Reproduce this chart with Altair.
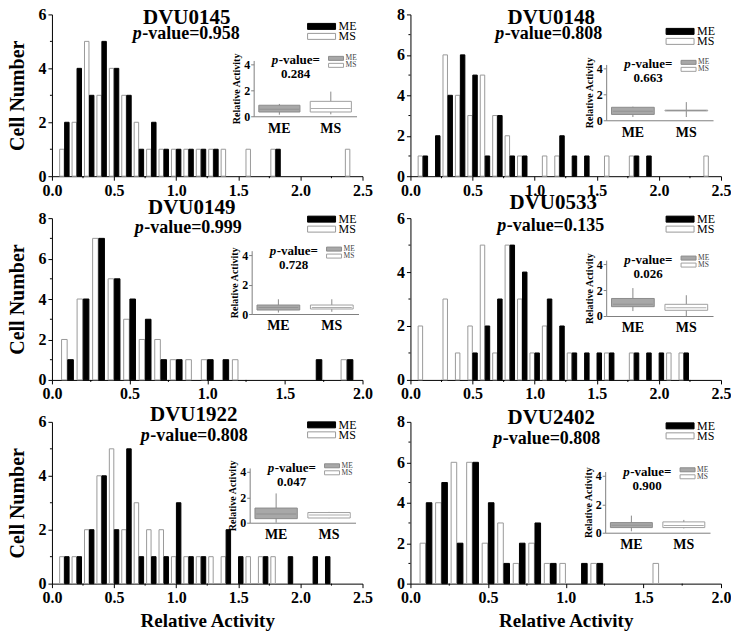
import altair as alt
import pandas as pd

FONT = "Liberation Serif"

GENES = ["DVU0145", "DVU0148", "DVU0149", "DVU0533", "DVU1922", "DVU2402"]
P_HIST = ["0.958", "0.808", "0.999", "0.135", "0.808", "0.808"]
P_BOX = ["0.284", "0.663", "0.728", "0.026", "0.047", "0.900"]
X_MAX = [2.5, 2.5, 2.0, 2.5, 2.5, 2.0]
Y_MAX = [6, 8, 8, 6, 6, 8]
SERIES = ["ME", "MS"]

BINS = [0.1, 0.2, 0.3, 0.4, 0.5, 0.6, 0.7, 0.8, 0.9, 1.0, 1.1, 1.2,
        1.3, 1.4, 1.5, 1.6, 1.7, 1.8, 1.9, 2.0, 2.1, 2.2, 2.3, 2.4]

ME_0145 = [2, 4, 3, 5, 4, 3, 1, 2, 1, 1, 1, 1, 1, 0, 0, 0, 0, 1, 0, 0, 0, 0, 0, 0]
MS_0145 = [1, 2, 5, 3, 4, 3, 2, 1, 1, 1, 1, 1, 1, 1, 0, 1, 0, 1, 0, 0, 0, 0, 0, 1]
ME_0148 = [1, 2, 4, 6, 5, 1, 3, 1, 1, 0, 0, 2, 1, 1, 0, 0, 0, 1, 1, 0, 0, 0, 0, 0]
MS_0148 = [1, 0, 6, 4, 3, 5, 3, 2, 1, 0, 1, 1, 0, 0, 0, 1, 0, 1, 0, 0, 0, 0, 0, 1]
ME_0149 = [1, 4, 7, 5, 4, 3, 1, 1, 0, 1, 1, 0, 0, 0, 0, 0, 1, 0, 1, 0, 0, 0, 0, 0]
MS_0149 = [2, 4, 7, 5, 3, 2, 2, 1, 1, 1, 0, 1, 0, 0, 0, 0, 0, 0, 1, 0, 0, 0, 0, 0]
ME_0533 = [0, 0, 0, 0, 1, 2, 3, 5, 4, 1, 3, 2, 1, 1, 1, 1, 0, 1, 1, 1, 0, 1, 0, 0]
MS_0533 = [2, 0, 3, 1, 2, 5, 1, 5, 3, 1, 2, 0, 1, 0, 0, 1, 0, 1, 0, 0, 1, 1, 0, 0]
ME_1922 = [1, 1, 2, 4, 2, 5, 1, 1, 1, 3, 1, 1, 0, 2, 1, 0, 1, 0, 1, 0, 1, 1, 0, 0]
MS_1922 = [1, 1, 2, 4, 5, 2, 3, 2, 2, 1, 1, 1, 1, 1, 0, 1, 1, 1, 0, 0, 0, 0, 0, 0]
ME_2402 = [4, 5, 2, 6, 4, 1, 2, 3, 1, 0, 1, 1, 0, 0, 0, 0, 0, 0, 0, 0, 0, 0, 0, 0]
MS_2402 = [2, 4, 6, 6, 2, 3, 1, 2, 1, 1, 0, 1, 0, 0, 0, 1, 0, 0, 0, 0, 0, 0, 0, 0]

# box-plot summaries: [lower whisker, Q1, median, Q3, upper whisker]
BOX_ME_0145 = [0.12, 0.33, 0.55, 0.85, 0.95]
BOX_MS_0145 = [0.15, 0.33, 0.60, 1.15, 1.90]
BOX_ME_0148 = [0.25, 0.45, 0.70, 1.00, 1.05]
BOX_MS_0148 = [0.25, 0.72, 0.75, 0.78, 1.40]
BOX_ME_0149 = [0.10, 0.27, 0.45, 0.61, 1.00]
BOX_MS_0149 = [0.15, 0.34, 0.45, 0.61, 1.00]
BOX_ME_0533 = [0.38, 0.72, 0.90, 1.35, 2.15]
BOX_MS_0533 = [0.00, 0.44, 0.64, 0.90, 1.60]
BOX_ME_1922 = [0.00, 0.32, 0.68, 1.15, 2.30]
BOX_MS_1922 = [0.35, 0.37, 0.60, 0.80, 0.85]
BOX_ME_2402 = [0.10, 0.36, 0.52, 0.71, 1.20]
BOX_MS_2402 = [0.30, 0.36, 0.50, 0.76, 0.90]

COUNTS = {
    "DVU0145": (ME_0145, MS_0145), "DVU0148": (ME_0148, MS_0148),
    "DVU0149": (ME_0149, MS_0149), "DVU0533": (ME_0533, MS_0533),
    "DVU1922": (ME_1922, MS_1922), "DVU2402": (ME_2402, MS_2402),
}
BOXES = {
    "DVU0145": (BOX_ME_0145, BOX_MS_0145), "DVU0148": (BOX_ME_0148, BOX_MS_0148),
    "DVU0149": (BOX_ME_0149, BOX_MS_0149), "DVU0533": (BOX_ME_0533, BOX_MS_0533),
    "DVU1922": (BOX_ME_1922, BOX_MS_1922), "DVU2402": (BOX_ME_2402, BOX_MS_2402),
}

# ---- layout (pixels, relative to each panel's plot area) ----
W, H = 311, 162
TITLE_X = [135, 141, 140, 143, 142, 141]
TITLE_Y = [4, 4, -10, -15, -7, -4]
PV_X = [134, 138, 136, 140, 142, 136]
PV_Y = [20, 20, 10, 8, 14, 17]
LEG_Y = [9, 14, -2, -2, 0, 1]
INS_L = [202, 196, 200, 196, 198, 195]
INS_R = [305, 303, 307, 303, 304, 300]
INS_Y0 = [102, 106, 96, 98, 101, 111]
INS_Y4 = [50, 54, 37, 46, 50, 54]


def text(t, x, y, size, weight="bold", style="normal", align="center",
         color="black", angle=0):
    return alt.Chart(pd.DataFrame({"t": [t]})).mark_text(
        font=FONT, fontSize=size, fontWeight=weight, fontStyle=style,
        align=align, baseline="middle", color=color, angle=angle
    ).encode(text="t:N", x=alt.value(x), y=alt.value(y))


def swatch(x, x2, y, y2, fill, stroke):
    return alt.Chart(pd.DataFrame({"k": [0]})).mark_rect(
        fill=fill, stroke=stroke, strokeWidth=1
    ).encode(x=alt.value(x), x2=alt.value(x2), y=alt.value(y), y2=alt.value(y2))


def panel(i):
    g = GENES[i]
    me, ms = COUNTS[g]
    rows = []
    for s, counts in (("MS", ms), ("ME", me)):
        for b, c in zip(BINS, counts):
            if c > 0:
                rows.append({"bin": b, "series": s, "count": c})
    df = pd.DataFrame(rows)
    left = i % 2 == 0
    bottom = i >= 4
    xmax = X_MAX[i]
    ymax = Y_MAX[i]
    xvals = [k * 0.5 for k in range(int(round(xmax / 0.5)) + 1)]
    xminor = [k * 0.5 + 0.25 for k in range(int(round(xmax / 0.5)))]
    yvals = list(range(0, ymax + 1, 2))
    yminor = list(range(1, ymax, 2))

    xaxis = alt.Axis(values=xvals, format=".1f", labelFlush=False,
                     title="Relative Activity" if bottom else None,
                     titleFontSize=19, titlePadding=6, labelFontSize=16,
                     labelPadding=2, tickSize=4)
    yaxis = alt.Axis(values=yvals, title="Cell Number" if left else None,
                     titleFontSize=20, titlePadding=10, labelFontSize=16,
                     labelPadding=2, tickSize=4)
    xsc = alt.Scale(domain=[0, xmax], nice=False)
    ysc = alt.Scale(domain=[0, ymax], nice=False)

    bars = alt.Chart(df).transform_calculate(
        x0="datum.series == 'ME' ? datum.bin + 0.002 : datum.bin - 0.038",
        x1="datum.series == 'ME' ? datum.bin + 0.038 : datum.bin - 0.002",
        base="0",
    ).mark_bar(strokeWidth=1).encode(
        x=alt.X("x0:Q", scale=xsc, axis=xaxis),
        x2="x1:Q",
        y=alt.Y("count:Q", scale=ysc, axis=yaxis),
        y2="base:Q",
        fill=alt.Fill("series:N", scale=alt.Scale(domain=SERIES, range=["#000000", "#ffffff"]), legend=None),
        stroke=alt.Stroke("series:N", scale=alt.Scale(domain=SERIES, range=["#000000", "#9a9a9a"]), legend=None),
    )
    minor_y = alt.Chart(pd.DataFrame({"v": yminor})).mark_rule(color="black").encode(
        y=alt.Y("v:Q", scale=ysc, axis=yaxis), x=alt.value(-2), x2=alt.value(0))
    minor_x = alt.Chart(pd.DataFrame({"v": xminor})).mark_rule(color="black").encode(
        x=alt.X("v:Q", scale=xsc, axis=xaxis), y=alt.value(H), y2=alt.value(H + 2))
    main = alt.layer(bars, minor_y, minor_x)

    layers = [main]
    # main title and p-value
    layers.append(text(g, TITLE_X[i], TITLE_Y[i], 21))
    pt = "-value=" + P_HIST[i]
    total = 9 + len(pt) * 8.1
    split = PV_X[i] - total / 2 + 9
    layers.append(text("p", split, PV_Y[i], 18, style="italic", align="right"))
    layers.append(text(pt, split + 0.5, PV_Y[i], 18, align="left"))
    # main legend
    ly = LEG_Y[i]
    layers.append(swatch(256, 284, ly, ly + 6, "#000000", "#000000"))
    layers.append(swatch(256, 284, ly + 10, ly + 16, "#ffffff", "#9a9a9a"))
    layers.append(text("ME", 287, ly + 3, 12, weight="normal", align="left"))
    layers.append(text("MS", 287, ly + 13, 12, weight="normal", align="left"))

    # inset box plot
    L, R, y0, y4 = INS_L[i], INS_R[i], INS_Y0[i], INS_Y4[i]
    ppu = (y0 - y4) / 4.0
    ytop = y0 - 4.3 * ppu
    bme, bms = BOXES[g]
    bdf = pd.DataFrame({
        "series": SERIES,
        "lo": [bme[0], bms[0]], "q1": [bme[1], bms[1]], "med": [bme[2], bms[2]],
        "q3": [bme[3], bms[3]], "hi": [bme[4], bms[4]],
    })
    xs = alt.Scale(domain=SERIES, range=[L, R], paddingInner=0.2, paddingOuter=0.1)
    ys = alt.Scale(domain=[0, 4.3], range=[y0, ytop], nice=False, zero=False)
    xax = alt.Axis(orient="bottom", offset=y0 - H, title=None, labelAngle=0,
                   labelFontSize=14, labelPadding=5, ticks=False,
                   domainColor="#808080")
    yax = alt.Axis(orient="left", offset=-L, values=[0, 2, 4],
                   title="Relative Activity", titleFontSize=10, titlePadding=2,
                   labelFontSize=12, labelPadding=1, tickSize=3,
                   domainColor="#808080", tickColor="#808080")
    xenc = alt.X("series:N", scale=xs, axis=xax)
    whisk = alt.Chart(bdf).mark_rule(color="#8a8a8a", strokeWidth=1).encode(
        x=xenc, y=alt.Y("lo:Q", scale=ys, axis=yax), y2="hi:Q")
    box = alt.Chart(bdf).mark_bar(strokeWidth=1).encode(
        x=xenc, y=alt.Y("q1:Q", scale=ys, axis=yax), y2="q3:Q",
        fill=alt.Fill("series:N", scale=alt.Scale(domain=SERIES, range=["#a8a8a8", "#ffffff"]), legend=None),
        stroke=alt.Stroke("series:N", scale=alt.Scale(domain=SERIES, range=["#8c8c8c", "#a0a0a0"]), legend=None),
    )
    med = alt.Chart(bdf).mark_tick(color="#8a8a8a", thickness=1, size=40).encode(
        x=xenc, y=alt.Y("med:Q", scale=ys, axis=yax))
    inset = alt.layer(whisk, box, med)
    layers.append(inset)

    cx = L + 42
    ip = "-value="
    itot = 6.5 + 41.4
    isplit = cx - itot / 2 + 6.5
    layers.append(text("p", isplit, y4 - 4, 13, style="italic", align="right"))
    layers.append(text(ip, isplit + 0.5, y4 - 4, 13, align="left"))
    layers.append(text(P_BOX[i], cx, y4 + 10, 13))
    layers.append(swatch(L + 75, L + 90, y4 - 8, y4 - 4, "#a8a8a8", "#8c8c8c"))
    layers.append(swatch(L + 75, L + 90, y4 - 1, y4 + 3, "#ffffff", "#a0a0a0"))
    layers.append(text("ME", L + 92, y4 - 6, 7.5, weight="normal", align="left", color="#444"))
    layers.append(text("MS", L + 92, y4 + 1, 7.5, weight="normal", align="left", color="#444"))

    return alt.layer(*layers).resolve_scale(
        x="independent", y="independent", fill="independent", stroke="independent"
    ).properties(width=W, height=H)


panels = [panel(i) for i in range(6)]
chart = alt.concat(*panels, columns=2, spacing={"row": 42, "column": 48},
                   bounds="flush").properties(
    padding={"left": 0, "top": -2, "right": 0, "bottom": 0}
).configure_view(stroke=None).configure_axis(
    labelFont=FONT, titleFont=FONT, labelFontWeight="bold", titleFontWeight="bold",
    labelColor="black", titleColor="black", domainColor="black", tickColor="black",
    grid=False,
)

chart.save("out.html", embed_options={"renderer": "svg", "actions": False})
